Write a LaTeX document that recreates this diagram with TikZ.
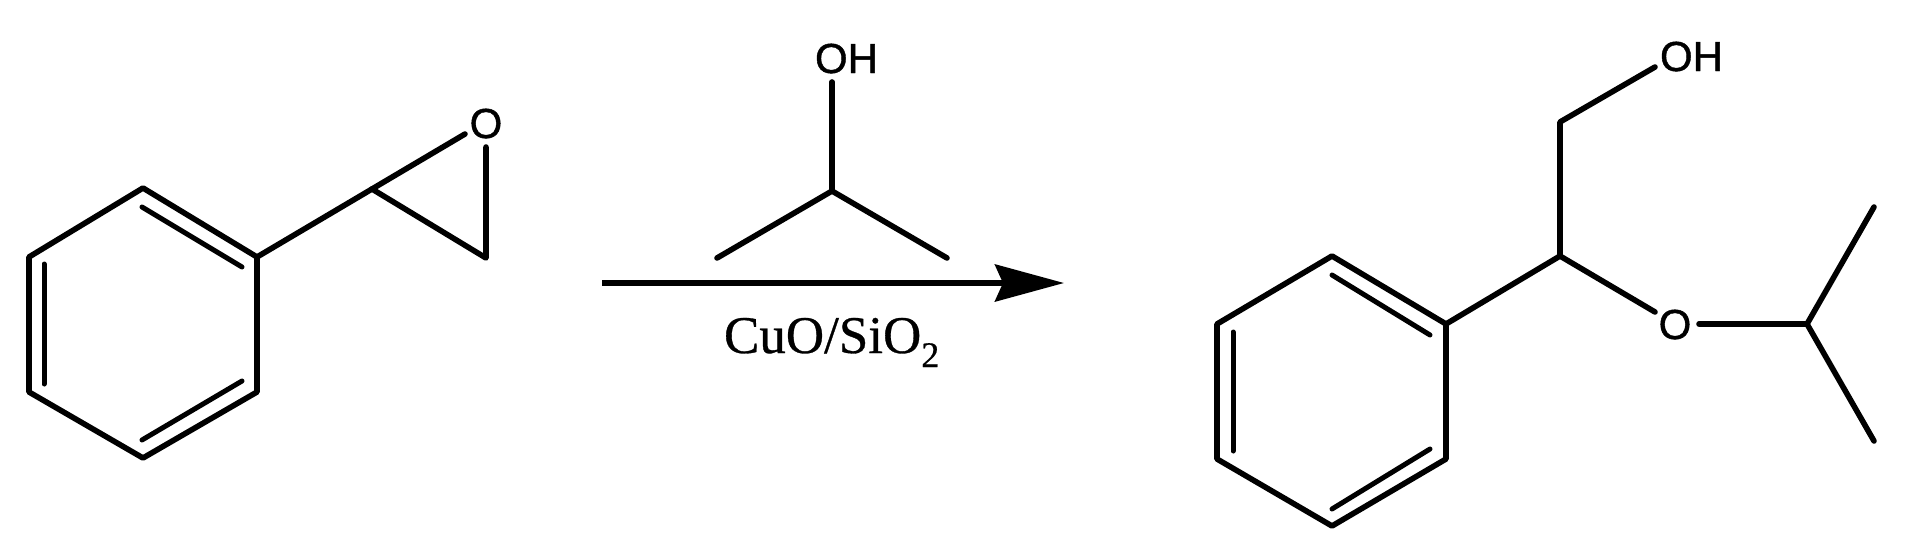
\documentclass[tikz,border=0pt]{standalone}
\usepackage{fontspec}
\setmainfont[FakeBold=0.6]{Liberation Serif}
\newfontfamily\atomfont[FakeBold=1]{Liberation Sans}
\usetikzlibrary{arrows.meta}
\tikzset{
  bond/.style={line width=5.6pt,line cap=round,line join=round,black},
  inner bond/.style={bond,line width=5pt},
  atom/.style={font=\atomfont\fontsize{42}{42}\selectfont,inner sep=0pt,outer sep=0pt,anchor=base},
  cond/.style={font=\fontsize{53}{60}\selectfont,inner sep=0pt,outer sep=0pt,anchor=base west},
  rxn/.style={line width=5.6pt,-{Stealth[length=69pt,width=37pt,inset=8pt]}}
}
\begin{document}
\begin{tikzpicture}[x=1pt,y=-1pt]
\useasboundingbox (0,0) rectangle (1909,557);
% styrene oxide
\coordinate (a1) at (143,188);
\coordinate (a2) at (257,257);
\coordinate (a3) at (257,392);
\coordinate (a4) at (143,458);
\coordinate (a5) at (29,392);
\coordinate (a6) at (29,257);
\coordinate (a1i) at (142,207);
\coordinate (a2i) at (242,267);
\coordinate (a3i) at (242,381);
\coordinate (a4i) at (142,440);
\coordinate (a5i) at (44,384);
\coordinate (a6i) at (44,264);
\coordinate (ep1) at (372,189);
\coordinate (ep2) at (486,258);
\node[atom] (epO) at (486,138) {O};
\coordinate (epOa) at (465,134);
\coordinate (epOb) at (486,147);
\draw[bond] (a1)--(a2)--(a3)--(a4)--(a5)--(a6)--cycle;
\draw[inner bond] (a1i)--(a2i);
\draw[inner bond] (a3i)--(a4i);
\draw[inner bond] (a5i)--(a6i);
\draw[bond] (a2)--(ep1);
\draw[bond] (ep1)--(epOa);
\draw[bond] (ep1)--(ep2)--(epOb);
% isopropanol
\node[atom,anchor=base west] (ipaOH) at (815,73) {OH};
\coordinate (ipaOa) at (832,82);
\coordinate (ipaC) at (832,191);
\coordinate (ipaL) at (717,258);
\coordinate (ipaR) at (947,258);
\draw[bond] (ipaOa)--(ipaC);
\draw[bond] (ipaL)--(ipaC)--(ipaR);
% arrow
\coordinate (arrS) at (602,283);
\coordinate (arrE) at (1064,283);
\draw[rxn] (arrS)--(arrE);
\node[cond] (cat) at (724,353) {CuO/SiO\raisebox{-14pt}{\fontsize{36}{36}\selectfont 2}};
% product
\coordinate (b1) at (1332,256);
\coordinate (b2) at (1446,324);
\coordinate (b3) at (1446,459);
\coordinate (b4) at (1332,526);
\coordinate (b5) at (1217,459);
\coordinate (b6) at (1217,324);
\coordinate (b1i) at (1332,275);
\coordinate (b2i) at (1430,335);
\coordinate (b3i) at (1430,449);
\coordinate (b4i) at (1332,509);
\coordinate (b5i) at (1233,451);
\coordinate (b6i) at (1233,332);
\coordinate (ca) at (1560,256);
\coordinate (cb) at (1560,122);
\node[atom,anchor=base west] (prOH) at (1660,71) {OH};
\coordinate (prOHa) at (1655,67);
\node[atom] (prO) at (1675,339) {O};
\coordinate (prOa) at (1655,312);
\coordinate (prOb) at (1699,324);
\coordinate (ip) at (1807,324);
\coordinate (ipU) at (1874,207);
\coordinate (ipD) at (1874,441);
\draw[bond] (b1)--(b2)--(b3)--(b4)--(b5)--(b6)--cycle;
\draw[inner bond] (b1i)--(b2i);
\draw[inner bond] (b3i)--(b4i);
\draw[inner bond] (b5i)--(b6i);
\draw[bond] (b2)--(ca)--(cb)--(prOHa);
\draw[bond] (ca)--(prOa);
\draw[bond] (prOb)--(ip);
\draw[bond] (ipU)--(ip)--(ipD);
\end{tikzpicture}
\end{document}
